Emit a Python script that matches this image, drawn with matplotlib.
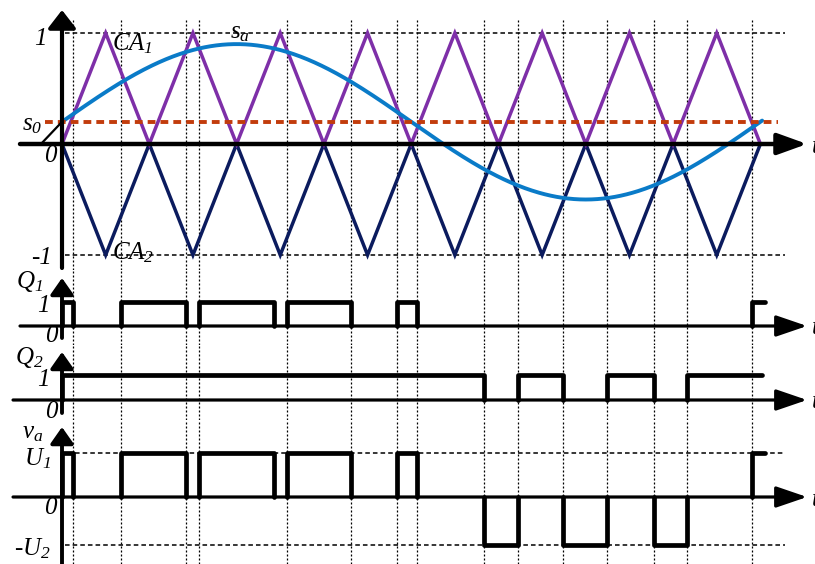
import numpy as np
import matplotlib
matplotlib.use("Agg")
import matplotlib.pyplot as plt

plt.rcParams["font.family"] = ["Liberation Serif", "DejaVu Serif"]
plt.rcParams["font.style"] = "italic"
plt.rcParams["mathtext.fontset"] = "custom"
plt.rcParams["mathtext.it"] = "Liberation Serif:italic"
plt.rcParams["mathtext.rm"] = "Liberation Serif:italic"
plt.rcParams["mathtext.default"] = "it"

# ---- signals (time in carrier periods) ----
carrier_t = [0, 0.5, 1, 1.5, 2, 2.5, 3, 3.5, 4, 4.5, 5, 5.5, 6, 6.5, 7, 7.5, 8]
ca1 = [0, 1, 0, 1, 0, 1, 0, 1, 0, 1, 0, 1, 0, 1, 0, 1, 0]
ca2 = [0, -1, 0, -1, 0, -1, 0, -1, 0, -1, 0, -1, 0, -1, 0, -1, 0]

s0 = 0.2          # offset of the modulating wave
m_amp = 0.7       # amplitude of the modulating wave
n_periods = 8     # carrier periods per fundamental period
t_sa_end = 8.02

# switching instants of Q1 (on, off) and Q2 (off, on)
q1_on = [0.0, 0.672, 1.573, 2.574, 3.841, 7.907]
q1_off = [0.129, 1.420, 2.428, 3.310, 4.063, 8.053]
q2_off = [4.834, 5.742, 6.785]
q2_on = [5.220, 6.239, 7.163]
q2_end = 8.02
U1 = 1.0
U2 = 1.09

# instants marked with vertical guide lines
guide_t = [0.129, 0.672, 1.420, 1.573, 2.574, 3.310, 3.841, 4.063,
           4.834, 5.220, 5.742, 6.239, 6.785, 7.163, 7.907]

# ---- figure / panels ----
W, H = 815, 564
fig = plt.figure(figsize=(W / 100, H / 100), dpi=100)
xlim = (-0.7102, 8.6254)


def band(top_px, bot_px, ylim):
    ax = fig.add_axes([0, 1 - bot_px / H, 1, (bot_px - top_px) / H])
    ax.set_xlim(*xlim)
    ax.set_ylim(*ylim)
    ax.axis("off")
    ax.patch.set_alpha(0)
    return ax


ax0 = band(0, 270, (-1.1351, 1.2973))
ax1 = band(270, 345, (-0.7917, 2.3333))
ax2 = band(345, 420, (-0.8, 2.2))
ax3 = band(420, 564, (-1.5227, 1.75))
panels = [ax0, ax1, ax2, ax3]

# vertical dotted guides through all panels
guide_kw = dict(color="black", lw=0.9, ls=(0, (1.6, 1.6)), zorder=1)
for ax in panels:
    lo, hi = ax.get_ylim()
    top = 1.12 if ax is ax0 else hi
    for tg in guide_t:
        ax.plot([tg, tg], [lo, top], **guide_kw)

level_kw = dict(color="black", lw=1.1, ls=(0, (3, 2)), zorder=1)
ax0.plot([0.03, 8.28], [1, 1], **level_kw)
ax0.plot([0.03, 8.28], [-1, -1], **level_kw)
ax3.plot([0.15, 8.28], [U1, U1], **level_kw)
ax3.plot([0.03, 8.28], [-U2, -U2], **level_kw)

# ---- carriers and modulating wave ----
ax0.plot(carrier_t, ca2, color="#0b1b5e", lw=2.5, zorder=3, solid_joinstyle="miter")
ax0.plot(carrier_t, ca1, color="#7e2fa8", lw=2.5, zorder=3, solid_joinstyle="miter")
tt = np.linspace(0, t_sa_end, 600)
sa = s0 + m_amp * np.sin(2 * np.pi * tt / n_periods)
ax0.plot(tt, sa, color="#0a7bc8", lw=2.8, zorder=4, solid_capstyle="round")
ax0.plot([-0.2, 8.2], [s0, s0], color="#c23c0c", lw=2.8, ls=(0, (2.0, 1.3)), zorder=5)
ax0.plot([-0.229, 0], [0.01, s0], color="black", lw=1.6, zorder=5)


# ---- axes with arrowheads ----
def h_axis(ax, x0, lw, hl, hw):
    ax.annotate("", xy=(8.534, 0), xytext=(x0, 0),
                arrowprops=dict(arrowstyle=f"-|>,head_length={hl},head_width={hw}",
                                lw=lw, color="black", shrinkA=0, shrinkB=0,
                                mutation_scale=10),
                zorder=6, annotation_clip=False)


def v_axis(ax, y0, y1, lw, hl, hw):
    ax.annotate("", xy=(0, y1), xytext=(0, y0),
                arrowprops=dict(arrowstyle=f"-|>,head_length={hl},head_width={hw}",
                                lw=lw, color="black", shrinkA=0, shrinkB=0,
                                mutation_scale=10),
                zorder=6, annotation_clip=False)


h_axis(ax0, -0.481, 3.2, 1.8, 0.65)
h_axis(ax1, -0.481, 2.3, 1.9, 0.65)
h_axis(ax2, -0.561, 2.3, 1.9, 0.65)
h_axis(ax3, -0.561, 2.3, 1.9, 0.65)
v_axis(ax0, -1.117, 1.207, 3.0, 1.1, 0.85)
v_axis(ax1, -0.5, 2.0, 2.8, 1.0, 0.7)
v_axis(ax2, -0.52, 1.92, 2.8, 1.0, 0.7)
v_axis(ax3, -1.5227, 1.59, 2.8, 1.0, 0.7)

# ---- switching waveforms ----
pulse_kw = dict(color="black", lw=3.4, zorder=7, solid_joinstyle="round",
                solid_capstyle="round")
for a, b in zip(q1_on, q1_off):
    last = b == q1_off[-1]
    xs = [a, a, b] if last else [a, a, b, b]
    ys1 = [0, 1, 1] if last else [0, 1, 1, 0]
    ysv = [0, U1, U1] if last else [0, U1, U1, 0]
    ax1.plot(xs, ys1, **pulse_kw)
    ax3.plot(xs, ysv, **pulse_kw)

ax2.plot([0, 0, q2_off[0], q2_off[0]], [0, 1, 1, 0], **pulse_kw)
for i, r in enumerate(q2_on):
    nxt = q2_off[i + 1] if i + 1 < len(q2_off) else None
    if nxt is None:
        ax2.plot([r, r, q2_end], [0, 1, 1], **pulse_kw)
    else:
        ax2.plot([r, r, nxt, nxt], [0, 1, 1, 0], **pulse_kw)
for f, r in zip(q2_off, q2_on):
    ax3.plot([f, f, r, r], [0, -U2, -U2, 0], **pulse_kw)

# ---- labels ----
fs = 18
txt = dict(fontsize=fs, color="black", zorder=8)
ax0.text(-0.175, 0.95, "1", ha="right", va="center", **txt)
ax0.text(-0.137, -0.108, "0", ha="center", va="center", **txt)
ax0.text(-0.235, -1.027, "-1", ha="center", va="center", **txt)
ax0.text(-0.34, 0.17, r"$s_0$", ha="center", va="center", **txt)
ax0.text(0.57, 0.90, r"$CA_1$", ha="left", va="center", **txt)
ax0.text(2.04, 1.0, r"$s_a$", ha="center", va="center", **txt)
ax0.text(0.57, -0.975, r"$CA_2$", ha="left", va="center", **txt)
ax0.text(8.59, -0.03, "t", ha="left", va="center", **txt)

ax1.text(-0.375, 1.85, r"$Q_1$", ha="center", va="center", **txt)
ax1.text(-0.218, 0.833, "1", ha="center", va="center", **txt)
ax1.text(-0.126, -0.417, "0", ha="center", va="center", **txt)
ax1.text(8.59, -0.08, "t", ha="left", va="center", **txt)

ax2.text(-0.375, 1.70, r"$Q_2$", ha="center", va="center", **txt)
ax2.text(-0.218, 0.8, "1", ha="center", va="center", **txt)
ax2.text(-0.126, -0.48, "0", ha="center", va="center", **txt)
ax2.text(8.59, -0.1, "t", ha="left", va="center", **txt)

ax3.text(-0.34, 1.45, r"$v_a$", ha="center", va="center", **txt)
ax3.text(-0.28, 0.88, r"$U_1$", ha="center", va="center", **txt)
ax3.text(-0.137, -0.25, "0", ha="center", va="center", **txt)
ax3.text(-0.34, -1.17, r"-$U_2$", ha="center", va="center", **txt)
ax3.text(8.59, -0.06, "t", ha="left", va="center", **txt)

fig.savefig("out.png", dpi=100, facecolor="white")
